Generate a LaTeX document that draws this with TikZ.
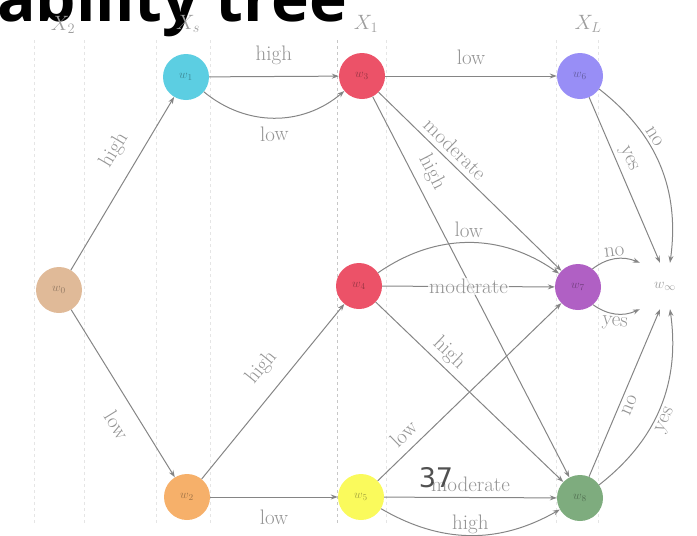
\documentclass[tikz,border=0pt]{standalone}
\usepackage{fontspec}
\newfontfamily\titlefont{Open Sans}
\newfontfamily\numfont{DejaVu Sans}
\usetikzlibrary{arrows.meta,calc}
\definecolor{ctan}{RGB}{224,186,152}
\definecolor{ccyan}{RGB}{92,206,226}
\definecolor{cred}{RGB}{236,82,104}
\definecolor{cblue}{RGB}{152,142,246}
\definecolor{cpurple}{RGB}{176,96,196}
\definecolor{corange}{RGB}{246,176,106}
\definecolor{cyellow}{RGB}{250,250,92}
\definecolor{cgreen}{RGB}{126,172,126}
\begin{document}
\begin{tikzpicture}[x=1pt,y=1pt,
  state/.style={circle,minimum size=46pt,inner sep=0pt,font=\fontsize{13}{13}\selectfont,text opacity=0.35},
  edge/.style={draw=black!48,line width=1pt,-{Stealth[length=7pt,width=5pt]}},
  lbl/.style={font=\fontsize{21}{21}\selectfont,text=black!42,sloped,inner sep=2pt},
  onlbl/.style={font=\fontsize{21}{21}\selectfont,text=black!42,sloped,inner sep=1pt,fill=white,fill opacity=0.75,text opacity=1},
  guide/.style={draw=black!10,line width=0.8pt,dashed},
  hdr/.style={font=\fontsize{22}{22}\selectfont,text=black!38,inner sep=0pt}]
\useasboundingbox (0,0) rectangle (697,-536);
% guide lines
\foreach \gx in {34,84,156,210,386,556,598}
  \draw[guide] (\gx,-40) -- (\gx,-525);
\draw[guide,draw=black!22] (337,-40) -- (337,-525);
% title and slide number
\node[anchor=base west,font=\titlefont\bfseries\fontsize{64}{64}\selectfont,inner sep=0pt] (title) at (-3,-21) {ability tree};
% headers
\node[hdr] (h1) at (63,-25) {$X_2$};
\node[hdr] (h2) at (188,-24) {$X_s$};
\node[hdr] (h3) at (366,-24) {$X_1$};
\node[hdr] (h4) at (588,-24) {$X_L$};
% states
\node[state,fill=ctan] (w0) at (59,-290) {$w_0$};
\node[state,fill=ccyan] (w1) at (186,-77) {$w_1$};
\node[state,fill=corange] (w2) at (187,-497) {$w_2$};
\node[state,fill=cred] (w3) at (362,-76) {$w_3$};
\node[state,fill=cred] (w4) at (359,-286) {$w_4$};
\node[state,fill=cyellow] (w5) at (361,-497) {$w_5$};
\node[state,fill=cblue] (w6) at (580,-76) {$w_6$};
\node[state,fill=cpurple] (w7) at (578,-287) {$w_7$};
\node[state,fill=cgreen] (w8) at (580,-498) {$w_8$};
\node[font=\fontsize{15}{15}\selectfont,text=black!38,minimum width=50pt,minimum height=46pt,inner sep=0pt] (sink) at (665,-286) {$w_\infty$};
% edges
\draw[edge] (w0) -- node[lbl,above=12pt,pos=0.62]{high} (w1);
\draw[edge] (w0) -- node[lbl,below=12pt,pos=0.62]{low} (w2);
\draw[edge] (w1) -- node[lbl,above=9pt]{high} (w3);
\draw[edge] (w1) to[bend right=40] node[lbl,below=6pt]{low} (w3);
\draw[edge] (w2) -- node[lbl,above=12pt,pos=0.55]{high} (w4);
\draw[edge] (w2) -- node[lbl,below=10pt]{low} (w5);
\draw[edge] (w3) -- node[lbl,above=9pt]{low} (w6);
\draw[edge] (w3) -- node[lbl,above=3pt,pos=0.37]{moderate} (w7);
\draw[edge] (w3) -- node[lbl,above=6pt,pos=0.22]{high} (w8);
\draw[edge] (w4) to[bend left=35] node[lbl,above=3pt]{low} (w7);
\draw[edge] (w4) -- node[onlbl]{moderate} (w7);
\draw[edge] (w4) -- node[lbl,above=2pt,pos=0.34]{high} (w8);
\draw[edge] (w5) -- node[lbl,above=6pt,pos=0.2]{low} (w7);
\draw[edge] (w5) -- node[lbl,above=3pt]{moderate} (w8);
\draw[edge] (w5) to[bend right=30] node[lbl,above=-1pt]{high} (w8);
\draw[edge] (w6) -- node[lbl,above=2pt,pos=0.4]{yes} ([xshift=-5pt]sink.north);
\draw[edge] (w6) to[bend left=30] node[lbl,above=1pt,pos=0.35]{no} ([xshift=5pt]sink.north);
\draw[edge] (w7) to[bend left=30] node[lbl,above=0pt]{no} (sink.north west);
\draw[edge] (w7) to[bend right=30] node[lbl,below=0pt]{yes} (sink.south west);
\draw[edge] (w8) -- node[lbl,below=2pt,pos=0.45]{no} ([xshift=-5pt]sink.south);
\draw[edge] (w8) to[bend right=30] node[lbl,below=1pt,pos=0.45]{yes} ([xshift=5pt]sink.south);
\node[font=\numfont\fontsize{27}{27}\selectfont,text=black!80,text opacity=0.85,inner sep=0pt] (num) at (436,-478) {37};
\end{tikzpicture}
\end{document}
